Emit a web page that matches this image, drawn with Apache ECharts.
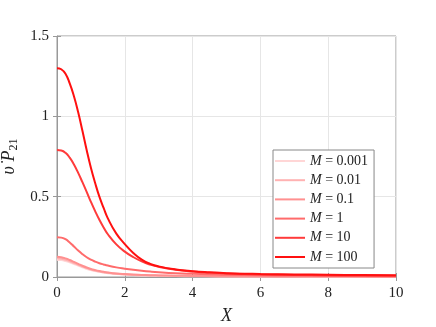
<!DOCTYPE html>
<html>
<head>
<meta charset="utf-8">
<script src="https://cdn.jsdelivr.net/npm/echarts@6/dist/echarts.min.js"></script>
<style>
  html, body { margin: 0; padding: 0; background: #fff; }
  #main { width: 436px; height: 327px; }
</style>
</head>
<body>
<div id="main"></div>
<script>
// X sample points shared by every curve
var xs = [0, 0.125, 0.25, 0.375, 0.5, 0.625, 0.75, 0.875, 1, 1.125, 1.25, 1.375, 1.5, 1.75, 2,
          2.25, 2.5, 2.75, 3, 3.5, 4, 4.5, 5, 6, 7, 8, 9, 10];

// values, one array per M
var m0001 = [0.108, 0.105, 0.099, 0.091, 0.081, 0.071, 0.060, 0.051, 0.043, 0.037, 0.032, 0.028, 0.024, 0.019, 0.015,
             0.012, 0.010, 0.009, 0.008, 0.006, 0.005, 0.004, 0.0035, 0.003, 0.0025, 0.002, 0.0018, 0.0015];
var m001  = [0.116, 0.113, 0.107, 0.098, 0.087, 0.076, 0.065, 0.055, 0.046, 0.040, 0.034, 0.030, 0.026, 0.020, 0.016,
             0.013, 0.011, 0.010, 0.009, 0.007, 0.006, 0.005, 0.004, 0.0033, 0.0027, 0.0022, 0.0019, 0.0017];
var m01   = [0.126, 0.123, 0.116, 0.106, 0.094, 0.082, 0.070, 0.059, 0.050, 0.043, 0.037, 0.032, 0.028, 0.022, 0.018,
             0.015, 0.013, 0.011, 0.010, 0.008, 0.007, 0.006, 0.005, 0.004, 0.003, 0.0027, 0.0023, 0.002];
var m1    = [0.247, 0.245, 0.235, 0.215, 0.190, 0.165, 0.142, 0.123, 0.108, 0.096, 0.086, 0.078, 0.071, 0.060, 0.052,
             0.045, 0.039, 0.034, 0.030, 0.024, 0.020, 0.017, 0.014, 0.011, 0.009, 0.007, 0.006, 0.005];
var m10   = [0.79, 0.787, 0.773, 0.743, 0.70, 0.648, 0.59, 0.53, 0.468, 0.41, 0.356, 0.308, 0.266, 0.203, 0.158,
             0.124, 0.097, 0.077, 0.063, 0.045, 0.034, 0.027, 0.022, 0.016, 0.013, 0.011, 0.009, 0.008];
var m100  = [1.30, 1.293, 1.265, 1.205, 1.125, 1.025, 0.91, 0.79, 0.68, 0.585, 0.50, 0.43, 0.365, 0.27, 0.205,
             0.15, 0.108, 0.082, 0.066, 0.047, 0.036, 0.029, 0.024, 0.019, 0.016, 0.014, 0.012, 0.011];

var mLabels = ['0.001', '0.01', '0.1', '1', '10', '100'];
var mData = [m0001, m001, m01, m1, m10, m100];
var colors = ['#ffd6d6', '#ffb2b2', '#ff9090', '#ff6b6b', '#ff3b3b', '#ff1010'];

var xTicks = [0, 2, 4, 6, 8, 10];
var yTicks = [0, 0.5, 1, 1.5];

var font = '"Liberation Serif", "DejaVu Serif", serif';

var series = mData.map(function (vals, k) {
    return {
        name: mLabels[k],
        type: 'line',
        smooth: 0.5,
        symbol: 'none',
        data: xs.map(function (x, i) { return [x, vals[i]]; }),
        lineStyle: { width: 2, color: colors[k] },
        itemStyle: { color: colors[k] },
        z: 2 + k
    };
});

var chart = echarts.init(document.getElementById('main'));
chart.setOption({
    animation: false,
    textStyle: { fontFamily: font },
    grid: {
        left: 57, right: 40, top: 36, bottom: 50,
        outerBoundsMode: 'none',
        containLabel: false,
        show: true, borderColor: '#999', borderWidth: 1
    },
    legend: {
        orient: 'vertical',
        left: 273, top: 150,
        padding: [4, 6, 4, 2],
        icon: 'rect',
        itemWidth: 30, itemHeight: 2, itemGap: 5.2,
        backgroundColor: '#fff',
        borderColor: '#888', borderWidth: 1,
        data: mLabels,
        formatter: function (name) { return '{i|M} = ' + name; },
        textStyle: {
            fontFamily: font, fontSize: 14, lineHeight: 14, color: '#222',
            rich: { i: { fontFamily: font, fontStyle: 'italic', fontSize: 14, lineHeight: 14, color: '#222' } }
        }
    },
    xAxis: [{
        type: 'value',
        min: 0, max: 10, interval: 2,
        name: 'X',
        nameLocation: 'middle',
        nameGap: 30,
        nameTextStyle: { fontFamily: font, fontStyle: 'italic', fontSize: 18, color: '#222' },
        axisLine: { show: true, lineStyle: { color: '#999' } },
        axisTick: { show: true, inside: true, length: 4, lineStyle: { color: '#999' } },
        axisLabel: {
            fontSize: 15, color: '#222', margin: 9,
            customValues: xTicks
        },
        splitLine: { show: true, lineStyle: { color: '#e6e6e6' } }
    }, {
        type: 'value', position: 'top',
        min: 0, max: 10, interval: 2,
        axisLine: { show: false },
        axisTick: { show: true, inside: true, length: 4, lineStyle: { color: '#999' } },
        axisLabel: { show: false },
        splitLine: { show: false }
    }],
    yAxis: [{
        type: 'value',
        min: 0, max: 1.5, interval: 0.5,
        name: '{i|\u03C5\u0307 P}{s|21}',
        nameLocation: 'middle',
        nameGap: 26,
        nameTextStyle: {
            fontFamily: font, fontSize: 18, color: '#222',
            rich: {
                i: { fontFamily: font, fontStyle: 'italic', fontSize: 18, color: '#222' },
                s: { fontFamily: font, fontSize: 12, color: '#222', verticalAlign: 'bottom', padding: [8, 0, 0, 0] }
            }
        },
        axisLine: { show: true, lineStyle: { color: '#999' } },
        axisTick: { show: true, inside: true, length: 4, lineStyle: { color: '#999' } },
        axisLabel: {
            fontSize: 15, color: '#222', margin: 8,
            customValues: yTicks,
            formatter: function (v) { return String(v); }
        },
        splitLine: { show: true, lineStyle: { color: '#e6e6e6' } }
    }, {
        type: 'value', position: 'right',
        min: 0, max: 1.5, interval: 0.5,
        axisLine: { show: false },
        axisTick: { show: true, inside: true, length: 4, lineStyle: { color: '#999' } },
        axisLabel: { show: false },
        splitLine: { show: false }
    }],
    series: series
});
</script>
</body>
</html>
